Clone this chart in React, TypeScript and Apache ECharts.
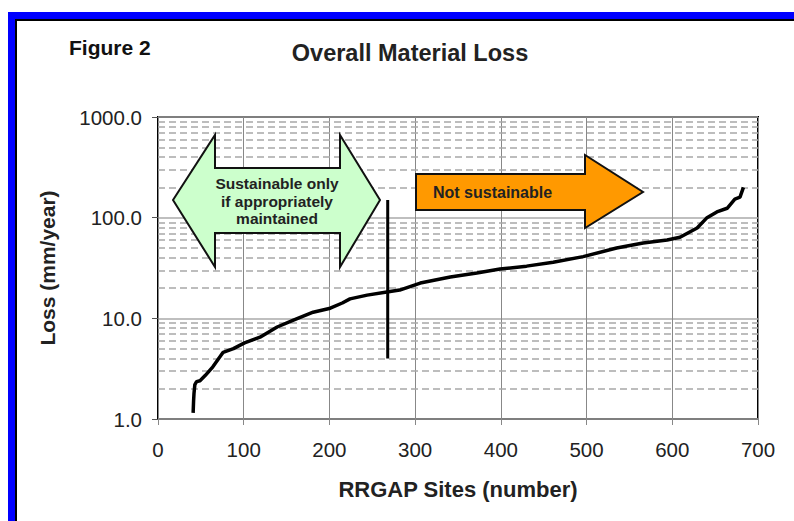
import React, { useEffect, useRef } from "react";
import * as echarts from "echarts";

const sitesX = [41, 41.5, 42, 43, 45, 49, 55, 64, 70, 76, 88, 101, 119, 139, 158, 181, 201, 215, 224, 244, 267, 282, 306, 341, 372, 399, 430, 461, 496, 535, 566, 594, 609, 629, 640, 652, 664, 673, 679, 683];
const lossY = [1.15, 1.5, 1.8, 2.2, 2.35, 2.4, 2.7, 3.3, 3.9, 4.6, 5.0, 5.7, 6.5, 8.2, 9.6, 11.5, 12.6, 14.2, 15.6, 17, 18.3, 19.1, 22.4, 25.7, 28.2, 30.9, 33, 36, 41, 50, 56, 60, 64, 79, 99, 114, 124, 153, 160, 200];
const dividerX = 268;
const dividerY = [4, 150];
const minorLines = [2, 3, 4, 5, 6, 7, 8, 9, 20, 30, 40, 50, 60, 70, 80, 90, 200, 300, 400, 500, 600, 700, 800, 900];
const xTicks = [0, 100, 200, 300, 400, 500, 600, 700];

const FONT = "'Liberation Sans', Arial, sans-serif";

export default function App() {
  const ref = useRef<HTMLDivElement>(null);
  useEffect(() => {
    if (!ref.current) return;
    const chart = echarts.init(ref.current, undefined, { renderer: "svg" });
    const curve = sitesX.map((x, i) => [x, lossY[i]]);
    chart.setOption({
      animation: false,
      backgroundColor: "#fff",
      title: [
        {
          text: "Figure 2",
          left: 64,
          top: 32,
          textStyle: { fontFamily: FONT, fontSize: 21, fontWeight: "bold", color: "#111" },
        },
        {
          text: "Overall Material Loss",
          left: 405,
          top: 36,
          textAlign: "center",
          textStyle: { fontFamily: FONT, fontSize: 23.5, fontWeight: "bold", color: "#222" },
        },
      ],
      grid: {
        left: 158,
        right: 36,
        top: 117,
        bottom: 102,
        show: true,
        borderColor: "#000",
        borderWidth: 2,
        backgroundColor: "transparent",
      },
      xAxis: {
        type: "value",
        min: 0,
        max: 700,
        interval: 100,
        name: "RRGAP Sites (number)",
        nameLocation: "middle",
        nameGap: 59,
        nameTextStyle: { fontFamily: FONT, fontSize: 22, fontWeight: "bold", color: "#222" },
        axisLine: { show: false },
        axisTick: { show: true, length: 6, lineStyle: { color: "#888" } },
        axisLabel: {
          fontFamily: FONT,
          fontSize: 20.5,
          color: "#222",
          margin: 20,
          formatter: (v: number) => (xTicks.includes(v) ? String(v) : ""),
        },
        splitLine: { show: true, lineStyle: { color: "#888", width: 1 } },
      },
      yAxis: {
        type: "log",
        logBase: 10,
        min: 1,
        max: 1000,
        name: "Loss (mm/year)",
        nameLocation: "middle",
        nameGap: 100,
        nameTextStyle: { fontFamily: FONT, fontSize: 21, fontWeight: "bold", color: "#222" },
        axisLine: { show: false },
        axisTick: { show: true, length: 6, lineStyle: { color: "#555" } },
        axisLabel: {
          fontFamily: FONT,
          fontSize: 20.5,
          color: "#222",
          margin: 16,
          formatter: (v: number) => v.toFixed(1),
        },
        splitLine: { show: true, lineStyle: { color: "#aaa", width: 1.5 } },
      },
      series: [
        {
          type: "line",
          data: curve,
          symbol: "none",
          lineStyle: { color: "#000", width: 3.5 },
          z: 5,
          markLine: {
            silent: true,
            symbol: "none",
            label: { show: false },
            lineStyle: { color: "#a8a8a8", width: 1.5, type: [7, 4] },
            data: minorLines.map((v) => ({ yAxis: v })),
            z: 1,
          },
        },
        {
          type: "line",
          data: [
            [dividerX, dividerY[0]],
            [dividerX, dividerY[1]],
          ],
          symbol: "none",
          lineStyle: { color: "#000", width: 3 },
          z: 6,
        },
      ],
      graphic: [
        { type: "rect", shape: { x: 8, y: 12, width: 786, height: 7 }, style: { fill: "#0000ff" } },
        { type: "rect", shape: { x: 8, y: 12, width: 7, height: 509 }, style: { fill: "#0000ff" } },
        { type: "rect", shape: { x: 15, y: 19, width: 779, height: 2 }, style: { fill: "#000" } },
        { type: "rect", shape: { x: 15, y: 19, width: 2, height: 502 }, style: { fill: "#000" } },
        {
          type: "polygon",
          z: 10,
          shape: {
            points: [
              [173, 200],
              [215, 135],
              [215, 168],
              [340, 168],
              [340, 135],
              [380, 200],
              [340, 267],
              [340, 233],
              [215, 233],
              [215, 267],
            ],
          },
          style: { fill: "#ccffcc", stroke: "#111", lineWidth: 2 },
        },
        {
          type: "text",
          z: 11,
          x: 277,
          y: 201,
          style: {
            text: "Sustainable only\nif appropriately\nmaintained",
            fontFamily: FONT,
            fontSize: 15.5,
            fontWeight: "bold",
            fill: "#222",
            align: "center",
            verticalAlign: "middle",
            lineHeight: 17.5,
          },
        },
        {
          type: "polygon",
          z: 10,
          shape: {
            points: [
              [416, 174],
              [585, 174],
              [585, 155],
              [643, 192],
              [585, 228],
              [585, 210],
              [416, 210],
            ],
          },
          style: { fill: "#ff9900", stroke: "#111", lineWidth: 2 },
        },
        {
          type: "text",
          z: 11,
          x: 433,
          y: 192,
          style: {
            text: "Not sustainable",
            fontFamily: FONT,
            fontSize: 16,
            fontWeight: "bold",
            fill: "#222",
            align: "left",
            verticalAlign: "middle",
          },
        },
      ],
    });
    return () => chart.dispose();
  }, []);
  return (
    <div
      ref={ref}
      style={{ position: "fixed", left: 0, top: 0, width: 794, height: 521 }}
    />
  );
}
